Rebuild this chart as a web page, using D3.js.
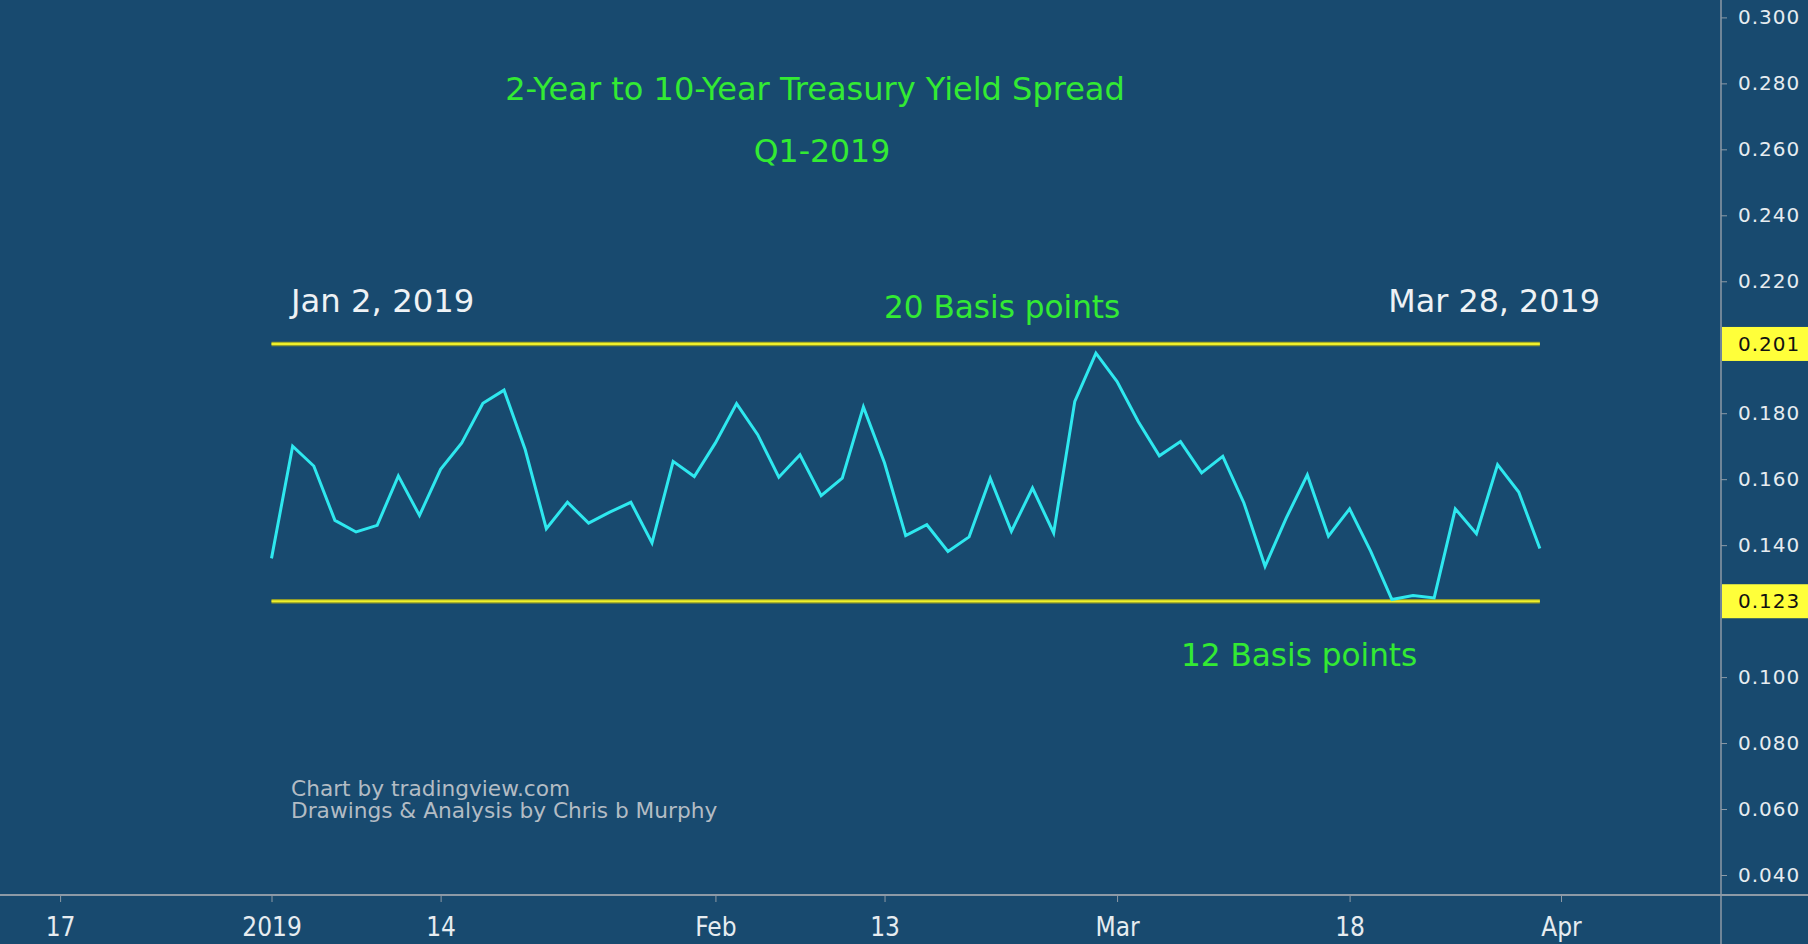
<!DOCTYPE html>
<html>
<head>
<meta charset="utf-8">
<script src="https://cdn.jsdelivr.net/npm/d3@7"></script>
<style>
  html, body { margin: 0; padding: 0; background: #184a6f; }
  svg { display: block; }
</style>
</head>
<body>
<svg id="chart" width="1808" height="944"></svg>
<script>
// ---------------- data ----------------
const sessionStart = "2019-01-02";
const holidays = ["2018-12-25", "2019-01-01", "2019-01-21", "2019-02-18"];

// daily 10Y-2Y spread, one value per trading session from Jan 2 to Mar 29, 2019
const spread = [
  0.136, 0.170, 0.164, 0.1475, 0.144, 0.146, 0.161, 0.149, 0.163, 0.171,
  0.183, 0.187, 0.169, 0.145, 0.153, 0.1467, 0.150, 0.153, 0.1407, 0.1654,
  0.1608, 0.171, 0.1829, 0.1735, 0.1606, 0.1674, 0.155, 0.1603, 0.1819, 0.1649,
  0.1429, 0.1462, 0.1381, 0.1425, 0.1603, 0.1442, 0.1573, 0.1437, 0.1836, 0.1982,
  0.1896, 0.1775, 0.1671, 0.1714, 0.1619, 0.1669, 0.1528, 0.1336, 0.1482, 0.1613,
  0.1427, 0.151, 0.1381, 0.1235, 0.1247, 0.124, 0.151, 0.1435, 0.1644, 0.1561,
  0.139
];

const rangeHigh = 0.201;
const rangeLow = 0.123;
const rangeStart = "2019-01-02";
const rangeEnd = "2019-03-29";

const xTickDates = ["2018-12-17", "2019-01-02", "2019-01-14", "2019-02-01", "2019-02-13", "2019-03-01", "2019-03-18", "2019-04-01"];
const xTickLabels = ["17", "2019", "14", "Feb", "13", "Mar", "18", "Apr"];

// price-scale ticks (0.120 and 0.200 sit under the yellow price labels)
const yTicks = [0.04, 0.06, 0.08, 0.10, 0.14, 0.16, 0.18, 0.22, 0.24, 0.26, 0.28, 0.30];

const titleText = "2-Year to 10-Year Treasury Yield Spread";
const subtitleText = "Q1-2019";
const startLabel = "Jan 2, 2019";
const endLabel = "Mar 28, 2019";
const highLabel = "20 Basis points";
const lowLabel = "12 Basis points";
const credits = ["Chart by tradingview.com", "Drawings & Analysis by Chris b Murphy"];

// ---------------- helpers ----------------
const parse = d3.utcParse("%Y-%m-%d");
const fmt = d3.utcFormat("%Y-%m-%d");
// trading-session index relative to sessionStart (weekdays minus holidays)
function sessionIndex(dateStr) {
  const a = parse(sessionStart), b = parse(dateStr);
  const lo = a < b ? a : b, hi = a < b ? b : a;
  const days = d3.utcDays(lo, hi).filter(d => d.getUTCDay() !== 0 && d.getUTCDay() !== 6 && !holidays.includes(fmt(d)));
  return a <= b ? days.length : -days.length;
}

// ---------------- layout ----------------
const W = 1808, H = 944;
const axisX = 1721, axisY = 895;
const svg = d3.select("#chart");

const x = d3.scaleLinear().domain([0, 61]).range([271.5, 1561]);
const y = d3.scaleLinear().domain([0.30, 0.04]).range([17.4, 875]);

const bg = "#184a6f";
svg.append("rect").attr("width", W).attr("height", H).attr("fill", bg);

const font = "'DejaVu Sans', Verdana, sans-serif";

// right price axis
const yAxis = d3.axisRight(y).tickValues(yTicks).tickSize(6).tickPadding(11).tickFormat(d3.format(".3f"));
const gy = svg.append("g").attr("transform", `translate(${axisX},0)`).call(yAxis);
gy.select(".domain").remove();
gy.selectAll(".tick line").attr("stroke", "#8d9aa6");
gy.selectAll(".tick text")
  .attr("fill", "#e6ecf0")
  .style("font-family", font)
  .style("font-size", "20px")
  .style("letter-spacing", "1px");

// bottom time axis
const gx = svg.append("g").attr("transform", `translate(0,${axisY})`)
  .call(d3.axisBottom(x).tickValues(xTickDates.map(sessionIndex)).tickSize(7).tickPadding(16)
    .tickFormat((d, i) => xTickLabels[i]));
gx.select(".domain").remove();
gx.selectAll(".tick line").attr("stroke", "#8d9aa6");
gx.selectAll(".tick text")
  .attr("fill", "#e6ecf0")
  .style("font-family", "'Liberation Sans Narrow', 'DejaVu Sans Condensed', sans-serif")
  .style("font-size", "26px");

// axis border lines
svg.append("line").attr("x1", 0).attr("x2", W).attr("y1", axisY).attr("y2", axisY)
  .attr("stroke", "#8d9aa6").attr("stroke-width", 2);
svg.append("line").attr("x1", axisX).attr("x2", axisX).attr("y1", 0).attr("y2", H)
  .attr("stroke", "#8d9aa6").attr("stroke-width", 1.5);

// horizontal range lines
const rx0 = x(sessionIndex(rangeStart)), rx1 = x(sessionIndex(rangeEnd));
[rangeHigh, rangeLow].forEach(v => {
  svg.append("line").attr("x1", rx0).attr("x2", rx1).attr("y1", y(v)).attr("y2", y(v))
    .attr("stroke", "#8f9a2c").attr("stroke-width", 4.5);
  svg.append("line").attr("x1", rx0).attr("x2", rx1).attr("y1", y(v)).attr("y2", y(v))
    .attr("stroke", "#f0f02a").attr("stroke-width", 2.2);
});

// spread line
const line = d3.line().x((d, i) => x(i)).y(d => y(d));
svg.append("path").datum(spread).attr("d", line)
  .attr("fill", "none").attr("stroke", "#2ee8ef").attr("stroke-width", 3)
  .attr("stroke-linejoin", "miter");

// price labels on axis
[rangeHigh, rangeLow].forEach(v => {
  svg.append("rect").attr("x", axisX + 1).attr("y", y(v) - 17).attr("width", W - axisX - 1).attr("height", 34)
    .attr("fill", "#ffff3a");
  svg.append("text").attr("x", axisX + 17).attr("y", y(v)).attr("dy", "0.35em")
    .attr("fill", "#111").style("font-family", font)
    .style("font-size", "20px").style("letter-spacing", "1px")
    .text(d3.format(".3f")(v));
});

// texts
const green = "#33ea33";
svg.append("text").attr("x", 815).attr("y", 100).attr("text-anchor", "middle")
  .attr("fill", green).style("font-family", font).style("font-size", "32px").text(titleText);
svg.append("text").attr("x", 822).attr("y", 162).attr("text-anchor", "middle")
  .attr("fill", green).style("font-family", font).style("font-size", "31.5px").text(subtitleText);
svg.append("text").attr("x", 291).attr("y", 312).attr("fill", "#eef2f5")
  .style("font-family", font).style("font-size", "32.3px").text(startLabel);
svg.append("text").attr("x", 1600).attr("y", 312).attr("text-anchor", "end").attr("fill", "#eef2f5")
  .style("font-family", font).style("font-size", "31.8px").text(endLabel);
svg.append("text").attr("x", 884).attr("y", 318).attr("fill", green)
  .style("font-family", font).style("font-size", "31.1px").text(highLabel);
svg.append("text").attr("x", 1181).attr("y", 666).attr("fill", green)
  .style("font-family", font).style("font-size", "31.1px").text(lowLabel);
credits.forEach((t, i) => {
  svg.append("text").attr("x", 291).attr("y", 796 + i * 22).attr("fill", "#b3bcc4")
    .style("font-family", font).style("font-size", "21.7px").text(t);
});
</script>
</body>
</html>
